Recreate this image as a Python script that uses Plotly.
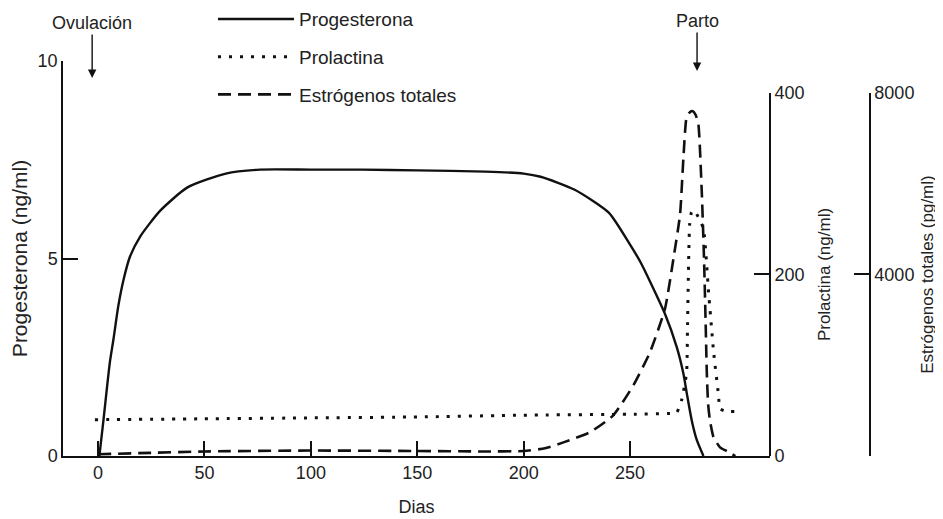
import plotly.graph_objects as go

# ---- data ----
prog_days = [0.6, 2.5, 4.1, 5.6, 7.2, 9.5, 11.9, 15, 19.7, 29, 42, 60, 76, 100, 124,
             150, 182, 200, 208, 224, 240, 250, 255, 260, 266.4, 272, 275.1, 276.7,
             279, 281.4, 284.5]
progesterona = [0, 0.9, 1.7, 2.4, 2.95, 3.8, 4.45, 5.05, 5.55, 6.2, 6.8, 7.15, 7.25,
                7.25, 7.25, 7.23, 7.2, 7.15, 7.07, 6.74, 6.16, 5.35, 4.9, 4.35, 3.6,
                2.75, 2.08, 1.58, 0.9, 0.4, 0]

prl_days = [-1.5, 50, 100, 150, 200, 250, 270, 272, 274.3, 276.6, 277.0, 277.5, 278.0,
            278.8, 279.7, 281, 282.8, 284.6, 286.9, 289.3, 291.5, 292.3, 295.4, 299.3]
prolactina = [40, 41, 42, 43, 45, 46, 47, 48, 62, 92, 140, 210, 255, 268, 271, 268,
              260, 250, 181, 114, 69, 52, 49, 49]

est_days = [0, 25, 50, 100, 150, 181, 200, 210, 218.7, 231, 242, 251.6, 259.4, 266.4,
            270.4, 273.5, 275.1, 276.6, 278.2, 279.5, 280.8, 282.1, 283.7, 284.8, 285.5,
            286.1, 286.7, 287.5, 289.2, 292.3, 295.4, 299.5]
estrogenos = [40, 70, 100, 120, 110, 100, 110, 170, 300, 520, 890, 1560, 2290, 3240,
              4350, 5320, 6580, 7470, 7580, 7600, 7520, 7320, 5840, 4300, 3000, 1800,
              1150, 800, 420, 190, 110, 0]

x_ticks = [0, 50, 100, 150, 200, 250]
prog_ticks = [0, 5, 10]
prl_ticks = [0, 200, 400]
est_ticks = [4000, 8000]

INK = "#111111"
TXT = "#222222"
FONT = "Liberation Sans, Arial, Helvetica, sans-serif"

fig = go.Figure()
fig.add_trace(go.Scatter(x=prog_days, y=progesterona, name="Progesterona",
                         mode="lines", line=dict(color=INK, width=2.4, shape="spline",
                                                 smoothing=0.6),
                         legendgroup="a", xaxis="x", yaxis="y"))
fig.add_trace(go.Scatter(x=prl_days, y=prolactina, name="Prolactina",
                         mode="lines", line=dict(color=INK, width=3, dash="3px,8px",
                                                 shape="spline", smoothing=0.4),
                         legendgroup="b", xaxis="x", yaxis="y2"))
fig.add_trace(go.Scatter(x=est_days, y=estrogenos, name="Estrógenos totales",
                         mode="lines", line=dict(color=INK, width=2.6, dash="13px,7px",
                                                 shape="spline", smoothing=0.5),
                         legendgroup="c", xaxis="x", yaxis="y3"))

XDOM_END = 0.8155
RIGHT_TOP = 0.919

axis_common = dict(showgrid=False, zeroline=False, showline=True, linecolor=INK,
                   linewidth=1.5, ticks="inside", ticklen=15, tickwidth=1.5,
                   tickcolor=INK, automargin=False,
                   tickfont=dict(family=FONT, size=18, color=TXT))

fig.update_layout(
    width=935, height=511,
    margin=dict(l=55, r=13, t=53, b=63, autoexpand=False),
    paper_bgcolor="white", plot_bgcolor="rgba(0,0,0,0)",
    font=dict(family=FONT, size=18, color=TXT),
    xaxis=dict(domain=[0, XDOM_END], range=[-16.5, 315.8], tickvals=x_ticks,
               title=dict(text="Dias", font=dict(size=18), standoff=18),
               **axis_common),
    yaxis=dict(range=[0, 10], tickvals=prog_ticks,
               title=dict(text="Progesterona (ng/ml)", font=dict(size=21), standoff=6),
               **axis_common),
    yaxis2=dict(domain=[0, RIGHT_TOP], range=[0, 400], tickvals=prl_ticks,
                anchor="free", position=XDOM_END, side="right",
                title=dict(text="Prolactina (ng/ml)", font=dict(size=17), standoff=14),
                **axis_common),
    yaxis3=dict(domain=[0, RIGHT_TOP], range=[0, 8000], tickvals=est_ticks,
                anchor="free", position=0.9308, side="right",
                title=dict(text="Estrógenos totales (pg/ml)", font=dict(size=17),
                           standoff=7),
                **axis_common),
    legend=dict(x=0.173, y=1.154, xanchor="left", yanchor="top", itemwidth=76,
                font=dict(family=FONT, size=19, color=TXT),
                traceorder="grouped", tracegroupgap=10, bgcolor="rgba(0,0,0,0)"),
    showlegend=True,
    annotations=[
        dict(text="Ovulación", x=-2.8, y=0.957, xref="x", yref="paper",
             showarrow=True, ax=0, ay=-55, arrowhead=2, arrowsize=1.2,
             arrowwidth=1.4, arrowcolor=INK, font=dict(size=18, color=TXT)),
        dict(text="Parto", x=281.5, y=0.975, xref="x", yref="paper",
             showarrow=True, ax=0, ay=-50, arrowhead=2, arrowsize=1.2,
             arrowwidth=1.4, arrowcolor=INK, font=dict(size=18, color=TXT)),
    ],
)

fig.write_html("out.html")
